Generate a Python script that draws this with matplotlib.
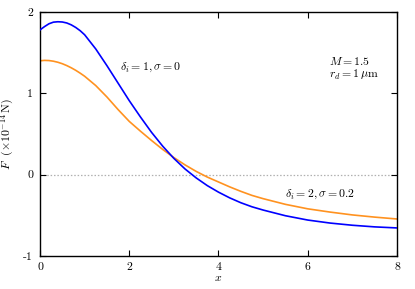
import numpy as np
import matplotlib
matplotlib.use('Agg')
import matplotlib.pyplot as plt

plt.rcParams['font.family'] = 'serif'
plt.rcParams['font.serif'] = ['cmr10', 'DejaVu Serif']
plt.rcParams['mathtext.fontset'] = 'cm'
plt.rcParams['axes.unicode_minus'] = False
plt.rcParams['axes.formatter.use_mathtext'] = True

# delta_i = 1, sigma = 0 (blue)
x_blue = [0, 0.1, 0.2, 0.3, 0.4, 0.5, 0.6, 0.7, 0.8, 0.9, 1.0, 1.25, 1.5, 1.75, 2.0,
          2.25, 2.5, 2.75, 3.0, 3.25, 3.5, 3.75, 4.0, 4.25, 4.5, 4.75, 5.0,
          5.5, 6.0, 6.5, 7.0, 7.5, 8.0]
F_blue = [1.78, 1.82, 1.855, 1.875, 1.88, 1.877, 1.865, 1.842, 1.81, 1.77, 1.72, 1.545, 1.34, 1.125, 0.91,
          0.71, 0.52, 0.35, 0.20, 0.07, -0.04, -0.135, -0.215, -0.285, -0.345, -0.395, -0.435,
          -0.505, -0.558, -0.595, -0.622, -0.642, -0.655]

# delta_i = 2, sigma = 0.2 (orange)
x_orange = [0, 0.1, 0.2, 0.3, 0.4, 0.5, 0.6, 0.7, 0.8, 0.9, 1.0, 1.25, 1.5, 1.75, 2.0,
            2.25, 2.5, 2.75, 3.0, 3.25, 3.5, 3.75, 4.0, 4.25, 4.5, 4.75, 5.0,
            5.5, 6.0, 6.5, 7.0, 7.5, 8.0]
F_orange = [1.40, 1.405, 1.403, 1.395, 1.382, 1.364, 1.341, 1.314, 1.283, 1.248, 1.21, 1.095, 0.955, 0.80, 0.655,
            0.535, 0.42, 0.31, 0.21, 0.12, 0.04, -0.03, -0.09, -0.15, -0.205, -0.255, -0.295,
            -0.365, -0.42, -0.46, -0.495, -0.522, -0.545]

xticks = [0, 2, 4, 6, 8]
yticks = [-1, 0, 1, 2]

fig = plt.figure(figsize=(4.15, 2.89), dpi=100)
ax = fig.add_axes([0.0964, 0.1142, 0.8602, 0.8443])

ax.axhline(0, color='#b0b0b0', lw=0.9, ls=(0, (1.2, 1.5)), zorder=1)
ax.plot(x_orange, F_orange, color='#ff9220', lw=1.2, zorder=2)
ax.plot(x_blue, F_blue, color='#0000ff', lw=1.2, zorder=3)

ax.set_xlim(0, 8)
ax.set_ylim(-1, 2)
ax.set_xticks(xticks)
ax.set_yticks(yticks)
ax.set_xticklabels([str(v) for v in xticks])
ax.set_yticklabels([str(v) for v in yticks])
ax.tick_params(direction='in', top=True, right=True, length=4, width=0.8,
               labelsize=8.5, pad=5)
for s in ax.spines.values():
    s.set_linewidth(1.0)

ax.set_xlabel(r'$x$', fontsize=8.5, labelpad=1)
ax.set_ylabel(r'$F\ \ (\times 10^{-14}\,\mathrm{N})$', fontsize=8.5, labelpad=5)

ax.text(1.79, 1.32, r'$\delta_i = 1, \sigma = 0$', fontsize=8.5, va='center', ha='left')
ax.text(5.49, -0.24, r'$\delta_i = 2, \sigma = 0.2$', fontsize=8.5, va='center', ha='left')
ax.text(6.48, 1.40, r'$M = 1.5$', fontsize=8.5, va='center', ha='left')
ax.text(6.48, 1.23, r'$r_d = 1\,\mu\mathrm{m}$', fontsize=8.5, va='center', ha='left')

fig.savefig('out.png', dpi=100)
